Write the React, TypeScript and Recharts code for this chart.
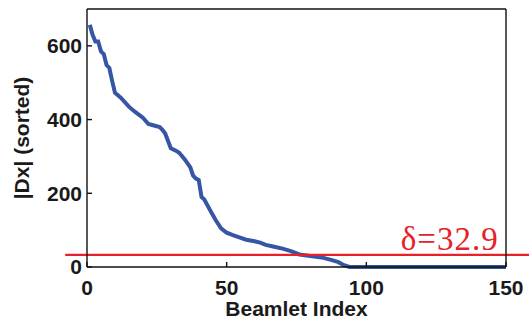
import { Line, LineChart, ReferenceLine, XAxis, YAxis } from "recharts";

const beamletIndex = [
  1, 2, 3, 4, 5, 6, 7, 8, 9, 10, 12, 15, 17, 20, 22, 24, 26, 27, 28, 30, 32, 33, 35, 37, 38, 39, 40, 41, 42, 44, 46,
  48, 50, 52, 54, 57, 60, 62, 64, 67, 70, 73, 76, 80, 84, 86, 88, 90, 92, 94, 150,
];
const dxSorted = [
  657, 630, 612, 612, 585, 578, 548, 540, 505, 473, 460, 435, 422, 405, 388, 384, 380, 372, 362, 322, 315, 310, 292,
  270, 248, 240, 236, 190, 183, 155, 128, 105, 93, 87, 82, 74, 70, 66, 60, 55, 50, 43, 34, 30, 26, 22, 18, 13, 5, 0, 0,
];
const xTicks = [0, 50, 100, 150];
const yTicks = [0, 200, 400, 600];
const delta = 32.9;

const rows = beamletIndex.map((x, i) => ({ x, dx: dxSorted[i] }));

const sans = "Liberation Sans, Arial, sans-serif";
const tickFont = { fontSize: 21, fontWeight: 700, fill: "#1a1a1a", fontFamily: sans };
const labelFont = { fontSize: 21, fontWeight: 700, fill: "#1a1a1a", fontFamily: sans };
const axisLine = { stroke: "#111", strokeWidth: 1.4 };

function DeltaLabel(props: any) {
  const vb = props.viewBox || {};
  return (
    <text
      x={vb.x + vb.width - 31}
      y={vb.y - 5}
      textAnchor="end"
      fill="#e8202a"
      fontSize={33}
      letterSpacing={1}
      fontFamily="Liberation Serif, Times New Roman, serif"
    >
      δ=32.9
    </text>
  );
}

export default function App() {
  return (
    <div style={{ position: "absolute", left: 0, top: 0 }}>
      <LineChart width={529} height={322} data={rows} margin={{ top: 8, right: 22, bottom: 0, left: 0 }}>
        <XAxis
          dataKey="x"
          type="number"
          domain={[0, 150]}
          ticks={xTicks}
          height={55}
          tickSize={-5}
          tickMargin={18}
          axisLine={axisLine}
          tickLine={axisLine}
          tick={tickFont}
          label={{ value: "Beamlet Index", position: "insideBottom", offset: 6, style: labelFont }}
        />
        <XAxis
          xAxisId="top"
          orientation="top"
          dataKey="x"
          type="number"
          domain={[0, 150]}
          ticks={xTicks}
          height={1}
          tickSize={-5}
          axisLine={axisLine}
          tickLine={axisLine}
          tick={false}
        />
        <YAxis
          type="number"
          domain={[0, 700]}
          ticks={yTicks}
          width={87}
          tickSize={-5}
          tickMargin={10}
          axisLine={axisLine}
          tickLine={axisLine}
          tick={tickFont}
          label={{
            value: "|Dx| (sorted)",
            angle: -90,
            position: "insideLeft",
            offset: 22,
            style: { ...labelFont, textAnchor: "middle" },
          }}
        />
        <YAxis
          yAxisId="right"
          orientation="right"
          type="number"
          domain={[0, 700]}
          ticks={yTicks}
          width={1}
          tickSize={-5}
          axisLine={axisLine}
          tickLine={axisLine}
          tick={false}
        />
        {/* invisible copy so the box axes have a series */}
        <Line
          xAxisId="top"
          yAxisId="right"
          dataKey="dx"
          stroke="none"
          dot={false}
          isAnimationActive={false}
        />
        <Line
          type="linear"
          dataKey="dx"
          stroke="#3655a5"
          strokeWidth={4}
          dot={false}
          isAnimationActive={false}
        />
        <ReferenceLine
          segment={[
            { x: -7.8, y: delta },
            { x: 158.5, y: delta },
          ]}
          ifOverflow="visible"
          stroke="#e8202a"
          strokeWidth={2.2}
          label={<DeltaLabel />}
        />
      </LineChart>
    </div>
  );
}
